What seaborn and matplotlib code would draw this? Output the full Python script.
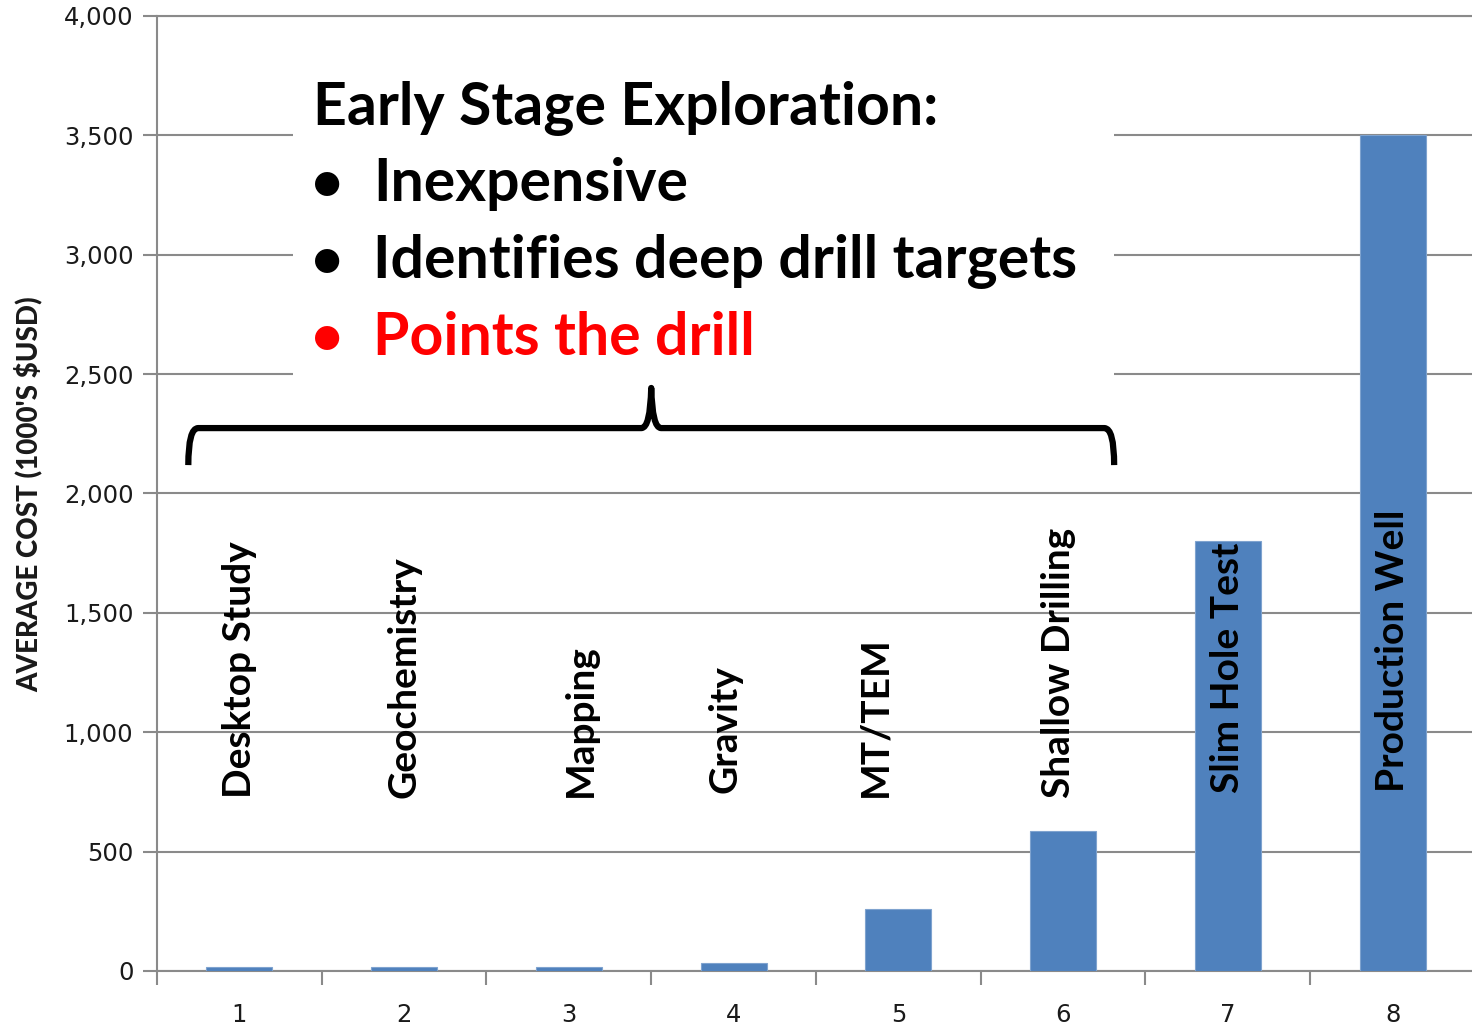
import matplotlib
matplotlib.use("Agg")
import matplotlib.pyplot as plt
from matplotlib.patches import Rectangle, PathPatch
from matplotlib.path import Path
from matplotlib.ticker import FuncFormatter, FixedLocator
import seaborn as sns
import pandas as pd

# Exploration stages and average cost (thousands of USD)
stage_numbers = ["1", "2", "3", "4", "5", "6", "7", "8"]
stage_names = ["Desktop Study", "Geochemistry", "Mapping", "Gravity",
               "MT/TEM", "Shallow Drilling", "Slim Hole Test", "Production Well"]
avg_cost = [15, 15, 15, 35, 260, 585, 1800, 3500]

headline = "Early Stage Exploration:"
bullets = ["Inexpensive", "Identifies deep drill targets", "Points the drill"]
bullet_colors = ["black", "black", "#FF0000"]

df = pd.DataFrame({"stage": stage_numbers, "cost": avg_cost})

sns.set_theme(style="white")
plt.rcParams["font.family"] = ["Lato", "DejaVu Sans"]

GRID = "#8a8a8a"
BAR = "#4F81BD"

fig = plt.figure(figsize=(14.72, 10.27), dpi=100)
ax = fig.add_axes([157 / 1472, 56 / 1027, 1 - 157 / 1472 + 0.002, (971 - 16) / 1027])

sns.barplot(data=df, x="stage", y="cost", color=BAR, width=0.4,
            saturation=1, edgecolor="#7fa3cf", linewidth=0.8, ax=ax, zorder=3)

ax.set_xlim(-0.5, 7.5)
ax.set_ylim(0, 4000)
ax.set_yticks(range(0, 4001, 500))
ax.yaxis.set_major_formatter(FuncFormatter(lambda v, p: f"{int(v):,}"))
ax.grid(axis="y", color=GRID, linewidth=1.5)
ax.grid(axis="x", visible=False)
ax.set_axisbelow(True)

# Category ticks at boundaries, numbers centred under bars
ax.xaxis.set_major_locator(FixedLocator([i - 0.5 for i in range(len(stage_numbers) + 1)]))
ax.xaxis.set_major_formatter(FuncFormatter(lambda v, p: ""))
ax.xaxis.set_minor_locator(FixedLocator(list(range(len(stage_numbers)))))
ax.set_xticks(range(len(stage_numbers)), stage_numbers, minor=True)
ax.tick_params(axis="x", which="major", direction="out", length=10, width=1.5,
               color=GRID, bottom=True)
ax.tick_params(axis="x", which="minor", length=0, pad=23, labelsize=17.5,
               labelcolor="#1a1a1a", bottom=True)
ax.tick_params(axis="y", direction="out", length=10, width=1.5, color=GRID,
               left=True, pad=7, labelsize=17.5, labelcolor="#1a1a1a")
for lab in ax.get_xticklabels(minor=True) + ax.get_yticklabels():
    lab.set_fontfamily("DejaVu Sans")

for side in ["left", "bottom", "top"]:
    ax.spines[side].set_color(GRID)
    ax.spines[side].set_linewidth(1.5)
ax.spines["right"].set_visible(False)
ax.set_xlabel("")
ax.set_ylabel("")

fig.text(28 / 1472, 1 - 494 / 1027, "AVERAGE COST (1000'S $USD)", rotation=90,
         ha="center", va="center", fontsize=20, fontweight="black",
         family=["Lato", "DejaVu Sans"], color="#1a1a1a")

# Stage names written vertically across each column
label_shift = [0.0, 0.0, 0.07, -0.05, -0.14, -0.03, 0.0, 0.0]
label_base = [725, 725, 727, 745, 727, 725, 745, 748]
for i, name in enumerate(stage_names):
    ax.text(i + label_shift[i], label_base[i], name, rotation=90, ha="center",
            va="bottom", fontsize=28, fontweight="bold", color="black", zorder=5)

# White panel behind the callout text
ax.add_patch(Rectangle((0.327, 2455), 5.31 - 0.327, 3830 - 2455,
                       facecolor="white", edgecolor="none", zorder=1.5))

# Curly brace spanning the early-stage columns
xl, xr, xm = -0.31, 5.31, 2.5
ybot, yh, ypk = 2119, 2274, 2442
dx = 0.06
verts = [(xl, ybot), (xl, yh), (xl + dx, yh),
         (xm - dx, yh), (xm - 0.006, yh), (xm, ypk),
         (xm + 0.006, yh), (xm + dx, yh),
         (xr - dx, yh), (xr, yh), (xr, ybot)]
codes = [Path.MOVETO, Path.CURVE3, Path.CURVE3,
         Path.LINETO, Path.CURVE3, Path.CURVE3,
         Path.CURVE3, Path.CURVE3,
         Path.LINETO, Path.CURVE3, Path.CURVE3]
ax.add_patch(PathPatch(Path(verts, codes), facecolor="none", edgecolor="black",
                       linewidth=4.5, capstyle="butt", joinstyle="round", zorder=4))

# Callout text
fig.text(313 / 1472, 1 - 125 / 1027, headline, ha="left", va="baseline",
         fontsize=42.5, fontweight="bold", color="black")
for k, (txt, col) in enumerate(zip(bullets, bullet_colors)):
    yb = 1 - (201 + 77 * k) / 1027
    fig.text(311 / 1472, yb, "\u2022", ha="left", va="baseline",
             fontsize=40, fontweight="bold", color=col)
    fig.text(373 / 1472, yb, txt, ha="left", va="baseline",
             fontsize=42.5, fontweight="bold", color=col)

fig.savefig("out.png", dpi=100)
